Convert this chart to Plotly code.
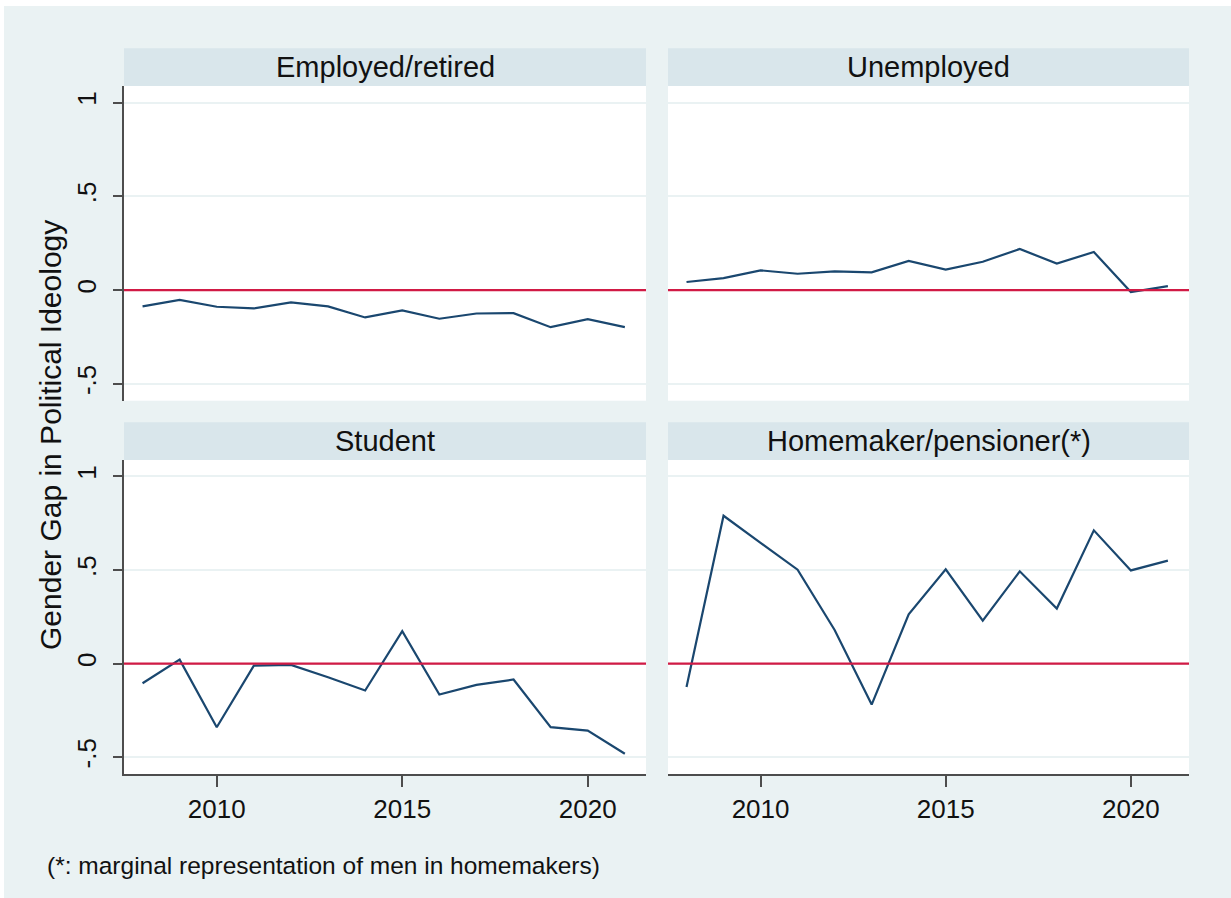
import plotly.graph_objects as go
from plotly.subplots import make_subplots

years = [2008, 2009, 2010, 2011, 2012, 2013, 2014, 2015, 2016, 2017, 2018, 2019, 2020, 2021]

employed = [-0.087, -0.053, -0.089, -0.098, -0.066, -0.087, -0.146, -0.109, -0.153, -0.125, -0.123, -0.198, -0.155, -0.198]
unemployed = [0.043, 0.064, 0.105, 0.087, 0.100, 0.094, 0.155, 0.109, 0.151, 0.219, 0.141, 0.203, -0.011, 0.021]
student = [-0.105, 0.021, -0.340, -0.011, -0.007, -0.073, -0.144, 0.173, -0.165, -0.114, -0.085, -0.340, -0.358, -0.482]
homemaker = [-0.125, 0.790, 0.645, 0.502, 0.180, -0.219, 0.263, 0.504, 0.230, 0.493, 0.294, 0.712, 0.498, 0.550]

panel_titles = ["Employed/retired", "Unemployed", "Student", "Homemaker/pensioner(*)"]
y_tickvals = [-0.5, 0, 0.5, 1]
y_ticktext = ["-.5", "0", ".5", "1"]
x_tickvals = [2010, 2015, 2020]

FONT = "Liberation Sans, Arial, sans-serif"
BG = "#EAF2F3"
STRIP = "#D9E6EB"
NAVY = "#1A476F"
RED = "#D11A45"
AXIS = "#4D4D4D"

W, H = 1231, 898
ML, MR, MT, MB = 124, 42, 86, 124
PW, PH = W - ML - MR, H - MT - MB

def px_x(x):
    return (x - ML) / PW

def px_y(y):
    return (H - MB - y) / PH

fig = make_subplots(rows=2, cols=2)

series = [employed, unemployed, student, homemaker]
cells = [(1, 1), (1, 2), (2, 1), (2, 2)]
for vals, (r, c) in zip(series, cells):
    fig.add_trace(go.Scatter(x=years, y=vals, mode="lines",
                             line=dict(color=NAVY, width=2.2), showlegend=False), row=r, col=c)
    fig.add_hline(y=0, line=dict(color=RED, width=2.2), layer="above", row=r, col=c)

x_doms = [[0, px_x(646)], [px_x(668), 1]]
y_doms = [[px_y(400.7), 1], [0, px_y(460)]]

for (r, c) in cells:
    fig.update_xaxes(domain=x_doms[c - 1], range=[2007.5, 2021.57], tickvals=x_tickvals,
                     showgrid=False, zeroline=False,
                     showline=(r == 2), linecolor=AXIS, linewidth=1.5,
                     ticks="outside" if r == 2 else "", ticklen=11, tickwidth=1.5, tickcolor=AXIS,
                     showticklabels=(r == 2), tickfont=dict(size=26, color="#111"),
                     row=r, col=c)
    fig.update_yaxes(domain=y_doms[r - 1], range=[-0.59, 1.088], tickvals=y_tickvals,
                     ticktext=y_ticktext, tickangle=-90,
                     showgrid=True, gridcolor=BG, gridwidth=1.5, zeroline=False,
                     showline=(c == 1), linecolor=AXIS, linewidth=1.5,
                     ticks="outside" if c == 1 else "", ticklen=9, tickwidth=1.5, tickcolor=AXIS,
                     showticklabels=(c == 1), tickfont=dict(size=26, color="#111"),
                     ticklabelstandoff=7,
                     row=r, col=c)

# thin white border at top and left, as in the exported image
shapes = [dict(type="rect", xref="paper", yref="paper", layer="below",
               x0=px_x(-2), x1=px_x(W + 2), y0=px_y(6), y1=px_y(-2),
               fillcolor="white", line=dict(width=0)),
          dict(type="rect", xref="paper", yref="paper", layer="below",
               x0=px_x(-2), x1=px_x(4), y0=px_y(H + 2), y1=px_y(-2),
               fillcolor="white", line=dict(width=0))]
strip_rows = [(48.3, 86), (422.3, 460)]
annotations = []
for i, (r, c) in enumerate(cells):
    top, bot = strip_rows[r - 1]
    x0, x1 = x_doms[c - 1]
    shapes.append(dict(type="rect", xref="paper", yref="paper", layer="below",
                       x0=x0, x1=x1, y0=px_y(bot), y1=px_y(top),
                       fillcolor=STRIP, line=dict(width=0)))
    annotations.append(dict(text=panel_titles[i], xref="paper", yref="paper",
                            x=(x0 + x1) / 2, y=px_y((top + bot) / 2),
                            xanchor="center", yanchor="middle", showarrow=False,
                            font=dict(size=29, color="#111", family=FONT)))

annotations.append(dict(text="Gender Gap in Political Ideology", xref="paper", yref="paper",
                        x=px_x(50), y=px_y(435), textangle=-90, xanchor="center", yanchor="middle",
                        showarrow=False, font=dict(size=30, color="#111", family=FONT)))
annotations.append(dict(text="(*: marginal representation of men in homemakers)", xref="paper",
                        yref="paper", x=px_x(45), y=px_y(865), xanchor="left", yanchor="middle",
                        showarrow=False, font=dict(size=24.5, color="#111", family=FONT)))

fig.update_layout(width=W, height=H, margin=dict(l=ML, r=MR, t=MT, b=MB),
                  paper_bgcolor=BG, plot_bgcolor="white",
                  font=dict(family=FONT, color="#111"),
                  shapes=list(fig.layout.shapes) + shapes, annotations=annotations)

fig.write_html("out.html", config={"displayModeBar": False},
               post_script="document.body.style.margin='0';")
